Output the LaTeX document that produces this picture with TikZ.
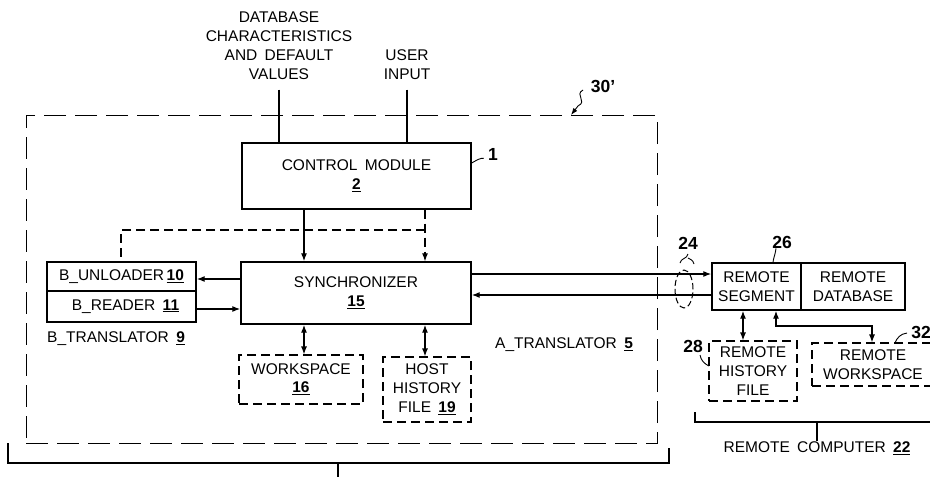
\documentclass[tikz,border=0pt]{standalone}
\usepackage{fontspec}
\setmainfont[WordSpace=1.7]{Liberation Sans}
\usetikzlibrary{arrows.meta,shapes.geometric}
\newcommand{\ulnum}[1]{\underline{\textbf{#1}}}
\begin{document}
\begin{tikzpicture}[x=1pt,y=-1pt,
  every node/.style={font=\fontsize{15.5}{19}\selectfont},
  box/.style={draw,line width=1.4pt,inner sep=0pt,align=center},
  dbox/.style={draw,line width=1.1pt,dash pattern=on 9pt off 5pt,inner sep=0pt,align=center},
  conn/.style={line width=1.2pt},
  dconn/.style={line width=1.1pt,dash pattern=on 9pt off 5pt},
  arr/.style={-{Latex[length=8pt,width=6pt]}},
  arrs/.style={{Latex[length=8pt,width=6pt]}-{Latex[length=8pt,width=6pt]}},
  lbl/.style={font=\fontsize{17.5}{18}\selectfont\bfseries,inner sep=0pt},
  lead/.style={line width=0.9pt},
  txt/.style={inner sep=0pt,align=center}]
\useasboundingbox (0,0) rectangle (930,477);
\clip (0,0) rectangle (930,477);
\fill[white] (0,0) rectangle (930,477);

% outer dashed box 30'
\node[draw,line width=1.0pt,dash pattern=on 22pt off 9pt,minimum width=631pt,minimum height=328pt,inner sep=0pt] (outer) at (341.5,279) {};

% top texts
\node[txt] (dbt) at (279,45.5) {DATABASE\\CHARACTERISTICS\\AND DEFAULT\\VALUES};
\node[txt] (uit) at (407,64.5) {USER\\INPUT};

% main boxes
\node[box,minimum width=229pt,minimum height=66pt] (cm) at (356.5,176) {CONTROL MODULE\\\ulnum{2}};
\node[box,minimum width=230pt,minimum height=62pt] (sync) at (356,293) {SYNCHRONIZER\\\ulnum{15}};
\node[box,minimum width=149pt,minimum height=29pt] (bu) at (121.5,276.5) {B\_UNLOADER\,\ulnum{10}};
\node[box,minimum width=149pt,minimum height=31pt] (br) at (121.5,306.5) {\hspace{8pt}B\_READER \ulnum{11}};
\node[dbox,minimum width=124pt,minimum height=49pt] (ws) at (301,379.5) {WORKSPACE\\[-1pt]\ulnum{16}};
\node[dbox,minimum width=88pt,minimum height=65pt] (hh) at (427,389.5) {HOST\\HISTORY\\FILE \ulnum{19}};

\node[txt,anchor=west] (btr) at (47,339) {B\_TRANSLATOR \ulnum{9}};
\node[txt,anchor=west] (atr) at (495,345) {A\_TRANSLATOR \ulnum{5}};

% remote side
\node[box,minimum width=89pt,minimum height=47pt] (rs) at (756.5,286.5) {REMOTE\\SEGMENT};
\node[box,minimum width=104pt,minimum height=47pt] (rd) at (853,286.5) {REMOTE\\DATABASE};
\node[dbox,minimum width=88pt,minimum height=60pt] (rh) at (753,371) {REMOTE\\HISTORY\\FILE};
\node[dbox,minimum width=122pt,minimum height=43pt] (rw) at (873,364.5) {REMOTE\\WORKSPACE};
\node[draw,ellipse,line width=1.0pt,dash pattern=on 6pt off 3pt,minimum width=18pt,minimum height=38pt,inner sep=0pt] (e24) at (684,289) {};

\node[txt] (rct) at (817,448) {REMOTE COMPUTER \ulnum{22}};

% reference labels
\node[lbl] (l1) at (493,154) {1};
\node[lbl] (l30) at (603,86) {30’};
\node[lbl] (l24) at (688,243) {24};
\node[lbl] (l26) at (782,242) {26};
\node[lbl] (l28) at (693,346) {28};
\node[lbl] (l32) at (921,332) {32};

% helper coordinates
\coordinate (xA) at (304,0);
\coordinate (xB) at (425,0);
\coordinate (fbL) at (121,230);
\coordinate (fbR) at (425,230);
\coordinate (yU) at (0,279);
\coordinate (yR) at (0,309);
\coordinate (yT) at (0,274);
\coordinate (yL) at (0,295);
\coordinate (xH) at (743,0);
\coordinate (xW1) at (776,0);
\coordinate (xW2) at (872,0);
\coordinate (yW) at (0,326);

% inputs
\draw[conn] ([yshift=-10pt]dbt.south) -- (dbt.south |- cm.north);
\draw[conn] ([yshift=-10pt]uit.south) -- (uit.south |- cm.north);

% control to synchronizer
\draw[conn,arr] (cm.south -| xA) -- (sync.north -| xA);
\draw[dconn,arr] (cm.south -| xB) -- (sync.north -| xB);
\draw[dconn] (fbR) -- (fbL) -- (bu.north -| fbL);

% B translator links
\draw[conn,arr] (sync.west |- yU) -- (bu.east |- yU);
\draw[conn,arr] (br.east |- yR) -- (sync.west |- yR);

% workspace and host history
\draw[conn,arrs] (sync.south -| xA) -- (ws.north -| xA);
\draw[conn,arrs] (sync.south -| xB) -- (hh.north -| xB);

% to remote
\draw[conn,arr] (sync.east |- yT) -- (rs.west |- yT);
\draw[conn,arr] (rs.west |- yL) -- (sync.east |- yL);
\draw[conn,arrs] (rs.south -| xH) -- (rh.north -| xH);
\draw[conn,arrs] (rs.south -| xW1) -- (xW1 |- yW) -| (rw.north -| xW2);

% brackets
\coordinate (hb1) at (8,443);
\coordinate (hb2) at (669,448);
\coordinate (hbc) at (338,463);
\draw[conn] (hb1) |- (hbc) -| (hb2);
\draw[conn] (hbc) -- (338,480);
\coordinate (rb1) at (695,412);
\coordinate (rbc) at (817,422);
\draw[conn] (rb1) |- (rbc) -- (935,422);
\draw[conn] (rbc) -- (rct.north);

% leaders
\draw[lead] (cm.east |- 0,163) .. controls (477,160) and (480,158) .. ([xshift=-4pt,yshift=2pt]l1.south west);
\draw[lead,-{Latex[length=7pt,width=5pt]}] (583,90) .. controls (574,95) and (588,101) .. (578,106) -- (571,115);
\draw[lead] (680,263) .. controls (681,258) and (687,259) .. (688,254);
\draw[lead] (688,258) .. controls (690,259) and (693,260) .. (694,264);
\draw[lead] ([xshift=-6pt]l26.south) .. controls (775,256) and (773,259) .. (773,263);
\draw[lead] (700,355) .. controls (701,361) and (705,364) .. (709,366);
\draw[lead] (895,343) .. controls (897,338) and (900,334) .. (907,333);
\end{tikzpicture}
\end{document}
